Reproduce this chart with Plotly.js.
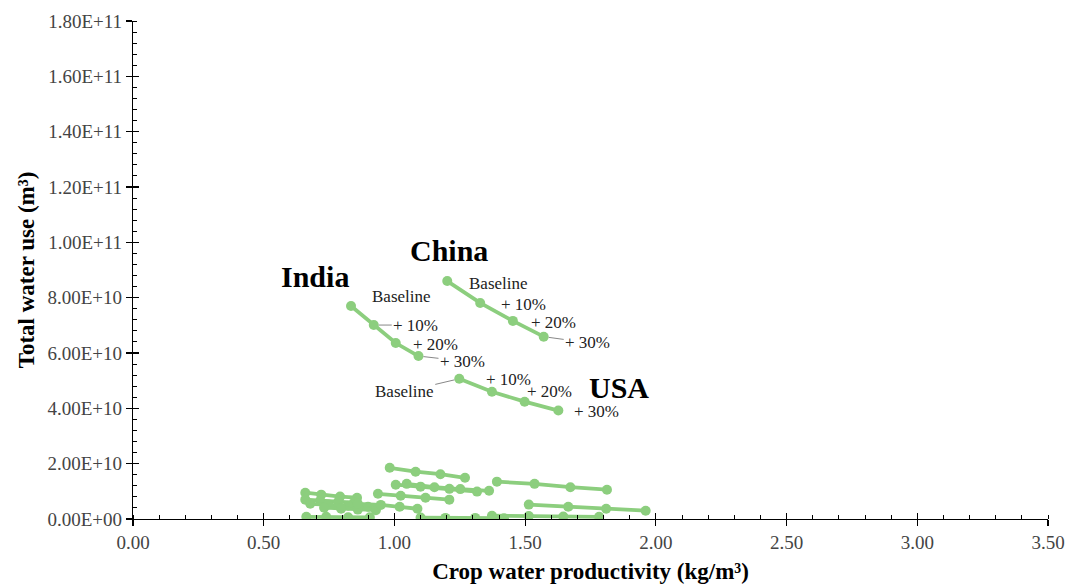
<!DOCTYPE html>
<html>
<head>
<meta charset="utf-8">
<script src="https://cdn.plot.ly/plotly-3.0.1.min.js"></script>
<style>html,body{margin:0;padding:0;background:#fff;}#chart{width:1068px;height:585px;}</style>
</head>
<body>
<div id="chart"></div>
<script>
// Labelled countries: crop water productivity (kg/m3) and total water use (m3)
const scenarioLabels = ["Baseline", "+ 10%", "+ 20%", "+ 30%"];
const indiaX = [0.834, 0.921, 1.005, 1.092];
const indiaY = [7.70e10, 7.01e10, 6.36e10, 5.89e10];
const chinaX = [1.202, 1.328, 1.453, 1.571];
const chinaY = [8.60e10, 7.81e10, 7.16e10, 6.59e10];
const usaX = [1.248, 1.373, 1.498, 1.627];
const usaY = [5.07e10, 4.60e10, 4.24e10, 3.92e10];

// Other countries (unlabelled), each with Baseline, +10%, +20%, +30%
const otherX = [
  [0.982, 1.081, 1.176, 1.270],
  [1.392, 1.536, 1.673, 1.813],
  [1.005, 1.100, 1.210, 1.316],
  [1.047, 1.153, 1.252, 1.362],
  [0.937, 1.024, 1.119, 1.210],
  [0.659, 0.720, 0.792, 0.857],
  [0.659, 0.716, 0.785, 0.845],
  [0.678, 0.747, 0.823, 0.899],
  [0.731, 0.796, 0.860, 0.929],
  [1.514, 1.665, 1.810, 1.961],
  [0.663, 0.739, 0.823, 0.906],
  [1.100, 1.195, 1.309, 1.419],
  [1.373, 1.514, 1.646, 1.783],
  [0.860, 0.948, 1.020, 1.088]
];
const otherY = [
  [1.85e10, 1.71e10, 1.62e10, 1.49e10],
  [1.35e10, 1.27e10, 1.15e10, 1.06e10],
  [1.24e10, 1.17e10, 1.09e10, 0.99e10],
  [1.27e10, 1.15e10, 1.08e10, 1.02e10],
  [0.91e10, 0.84e10, 0.77e10, 0.70e10],
  [0.95e10, 0.88e10, 0.81e10, 0.77e10],
  [0.70e10, 0.66e10, 0.62e10, 0.59e10],
  [0.55e10, 0.52e10, 0.48e10, 0.44e10],
  [0.41e10, 0.37e10, 0.34e10, 0.32e10],
  [0.52e10, 0.44e10, 0.37e10, 0.30e10],
  [0.08e10, 0.08e10, 0.06e10, 0.06e10],
  [0.05e10, 0.04e10, 0.04e10, 0.03e10],
  [0.12e10, 0.11e10, 0.09e10, 0.08e10],
  [0.55e10, 0.51e10, 0.44e10, 0.37e10]
];

const yTickVals = [0, 2e10, 4e10, 6e10, 8e10, 1e11, 1.2e11, 1.4e11, 1.6e11, 1.8e11];
const yTickText = ["0.00E+00", "2.00E+10", "4.00E+10", "6.00E+10", "8.00E+10",
  "1.00E+11", "1.20E+11", "1.40E+11", "1.60E+11", "1.80E+11"];
const xTickVals = [0, 0.5, 1, 1.5, 2, 2.5, 3, 3.5];

const green = "rgb(140,206,126)";
const serif = "Liberation Serif, Times New Roman, serif";

function lineTrace(x, y) {
  return {x: x, y: y, type: "scatter", mode: "lines+markers", showlegend: false,
    line: {color: green, width: 3.8}, marker: {color: green, size: 10}, hoverinfo: "skip"};
}

const traces = [];
for (let i = 0; i < otherX.length; i++) traces.push(lineTrace(otherX[i], otherY[i]));
traces.push(lineTrace(indiaX, indiaY));
traces.push(lineTrace(chinaX, chinaY));
traces.push(lineTrace(usaX, usaY));
traces.push({x: [], y: [], xaxis: "x2", yaxis: "y2", type: "scatter", showlegend: false});

const smallFont = {family: serif, size: 17, color: "#222"};
const bigFont = {family: serif, size: 30, color: "#000"};

function lbl(x, y, text, dx, dy, arrow) {
  if (arrow) {
    return {x: x, y: y, xref: "x", yref: "y", text: text, showarrow: true, ax: dx, ay: dy,
      arrowhead: 0, arrowwidth: 1, arrowcolor: "#888", standoff: 5, font: smallFont};
  }
  return {x: x, y: y, xref: "x", yref: "y", text: text, showarrow: false,
    xshift: dx, yshift: -dy, font: smallFont};
}

const annotations = [
  {x: indiaX[0], y: indiaY[0], xref: "x", yref: "y", text: "<b>India</b>", showarrow: false, xshift: -36, yshift: 29, font: bigFont},
  {x: chinaX[0], y: chinaY[0], xref: "x", yref: "y", text: "<b>China</b>", showarrow: false, xshift: 2, yshift: 31, font: bigFont},
  {x: usaX[3], y: usaY[3], xref: "x", yref: "y", text: "<b>USA</b>", showarrow: false, xshift: 61, yshift: 23, font: bigFont},
  lbl(indiaX[0], indiaY[0], scenarioLabels[0], 50, -9, false),
  lbl(indiaX[1], indiaY[1], scenarioLabels[1], 42, 0, true),
  lbl(indiaX[2], indiaY[2], scenarioLabels[2], 40, 1, false),
  lbl(indiaX[3], indiaY[3], scenarioLabels[3], 44, 5, true),
  lbl(chinaX[0], chinaY[0], scenarioLabels[0], 51, 2, false),
  lbl(chinaX[1], chinaY[1], scenarioLabels[1], 43, 2, false),
  lbl(chinaX[2], chinaY[2], scenarioLabels[2], 41, 2, false),
  lbl(chinaX[3], chinaY[3], scenarioLabels[3], 44, 6, true),
  lbl(usaX[0], usaY[0], scenarioLabels[0], -55, 13, true),
  lbl(usaX[1], usaY[1], scenarioLabels[1], 17, -12, false),
  lbl(usaX[2], usaY[2], scenarioLabels[2], 25, -10, false),
  lbl(usaX[3], usaY[3], scenarioLabels[3], 38, 1, false)
];

const layout = {
  width: 1068, height: 585,
  margin: {l: 133, r: 20, t: 21, b: 66},
  paper_bgcolor: "#fff", plot_bgcolor: "#fff",
  font: {family: serif, color: "#000"},
  showlegend: false,
  xaxis: {
    range: [0, 3.5], tickvals: xTickVals, tickformat: ".2f", ticklabeloverflow: "allow",
    showgrid: false, zeroline: false, showline: true, linecolor: "#000", linewidth: 1.2,
    ticks: "outside", ticklen: 6, tickcolor: "#000", tickwidth: 1.2,
    minor: {dtick: 0.1, ticks: "inside", ticklen: 4, tickcolor: "#000", tickwidth: 1},
    tickfont: {family: serif, size: 19, color: "#444"},
    title: {text: "<b>Crop water productivity (kg/m³)</b>", font: {family: serif, size: 23, color: "#000"}, standoff: 10},
    fixedrange: true
  },
  yaxis: {
    range: [0, 1.8e11], tickvals: yTickVals, ticktext: yTickText,
    showgrid: false, zeroline: false, showline: true, linecolor: "#000", linewidth: 1.2,
    ticks: "outside", ticklen: 6, tickcolor: "#000", tickwidth: 1.2,
    minor: {dtick: 4e9, ticks: "inside", ticklen: 4, tickcolor: "#000", tickwidth: 1},
    tickfont: {family: serif, size: 19, color: "#444"},
    title: {text: "<b>Total water use (m³)</b>", font: {family: serif, size: 23, color: "#000"}, standoff: 6},
    fixedrange: true
  },
  xaxis2: {overlaying: "x", anchor: "y2", range: [0, 3.5], tickvals: xTickVals, ticks: "inside", ticklen: 6,
    tickcolor: "#000", tickwidth: 1.2, showticklabels: false, showgrid: false, zeroline: false, showline: false, fixedrange: true},
  yaxis2: {overlaying: "y", anchor: "x2", range: [0, 1.8e11], tickvals: yTickVals, ticks: "inside", ticklen: 6,
    tickcolor: "#000", tickwidth: 1.2, showticklabels: false, showgrid: false, zeroline: false, showline: false, fixedrange: true},
  annotations: annotations
};

Plotly.newPlot("chart", traces, layout, {displayModeBar: false, staticPlot: true});
</script>
</body>
</html>
